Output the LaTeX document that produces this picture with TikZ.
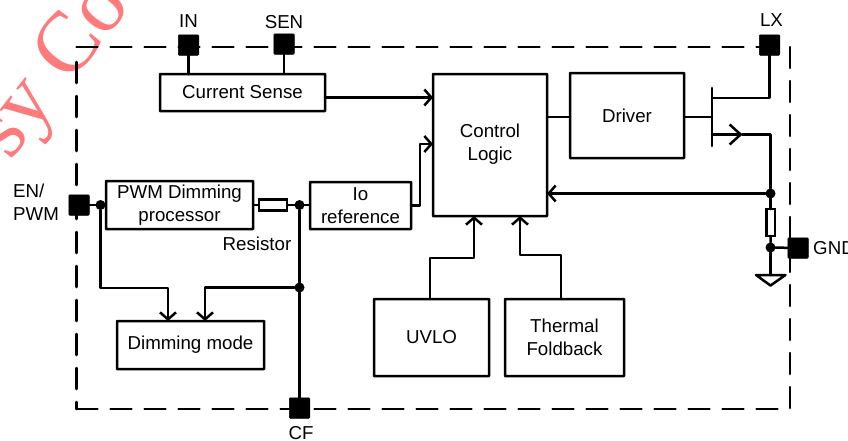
\documentclass[tikz,border=0pt]{standalone}
\usepackage{fontspec}
\setmainfont{Liberation Sans}
\newfontfamily\wmfont{Liberation Serif}
\usetikzlibrary{arrows.meta,calc}
\tikzset{
  wire/.style={line width=2.5pt,line cap=round,line join=round},
  flow/.style={wire,-{Straight Barb[length=7pt,width=16pt,line width=2.5pt]}},
  blk/.style={draw,line width=2.5pt,inner sep=0pt,outer sep=0pt,align=center,font=\fontsize{18.7}{22.5}\selectfont,rounded corners=0.5pt},
  pin/.style={fill=black,draw=black,line width=0.5pt,minimum size=20.5pt,inner sep=0pt,outer sep=0pt,rounded corners=1pt},
  lbl/.style={inner sep=0pt,align=left,font=\fontsize{18.7}{22.5}\selectfont},
  jn/.style={circle,fill=black,minimum size=10pt,inner sep=0pt,outer sep=0pt},
  res/.style={draw,fill=white,line width=2.5pt,inner sep=0pt,outer sep=0pt},
}
\begin{document}
\begin{tikzpicture}[x=1pt,y=-1pt]
\useasboundingbox (0,0) rectangle (848,440);
% watermark
\begin{scope}
\clip (0,0) rectangle (848,440);
\node[rotate=52,text=red!52!white,font=\wmfont\fontsize{86}{86}\selectfont,inner sep=0pt,anchor=base west] (wm) at (10,162) {sy Co};
\end{scope}
% frame
\coordinate (tl) at (76.5,47);
\coordinate (br) at (790,409);
\draw[wire,dash pattern=on 21pt off 13pt] (tl) -- (tl -| br);
\draw[wire,dash pattern=on 21pt off 13pt] (tl |- br) -- (br);
\draw[wire,dash pattern=on 21pt off 13pt] (tl) ++(0,15) -- (tl |- br);
\draw[wire,dash pattern=on 21pt off 13pt] (tl -| br) -- (br);
% blocks
\node[blk,minimum width=165pt,minimum height=37pt] (cs) at (242.5,92.5) {Current Sense};
\node[blk,minimum width=147pt,minimum height=48pt] (pwm) at (179.5,205) {PWM Dimming\\processor};
\node[blk,minimum width=101pt,minimum height=47pt] (io) at (360.5,205.5) {Io\\reference};
\node[blk,minimum width=147pt,minimum height=48pt] (dim) at (190.5,345) {Dimming mode};
\node[blk,minimum width=114pt,minimum height=142pt] (ctl) at (490,145) {};
\node[lbl,align=center] (ctltxt) at (490,144) {Control\\Logic};
\node[blk,minimum width=114pt,minimum height=85pt] (drv) at (627,115.5) {Driver};
\node[blk,minimum width=115pt,minimum height=77pt] (uvlo) at (431.5,337.5) {UVLO};
\node[blk,minimum width=119pt,minimum height=77pt] (thm) at (564.5,337.5) {Thermal\\Foldback};
% pins
\node[pin] (pin) at (188.5,45) {};
\node[pin] (psen) at (284,44) {};
\node[pin] (plx) at (769.5,45) {};
\node[pin] (pen) at (79,205) {};
\node[pin] (pcf) at (299.5,408) {};
\node[pin] (pgnd) at (798,248) {};
% labels
\node[lbl] (lin) at (188.5,21) {IN};
\node[lbl] (lsen) at (284,22) {SEN};
\node[lbl] (llx) at (771.5,20) {LX};
\node[lbl,anchor=west] (len) at (13,202) {EN/\\PWM};
\node[lbl] (lcf) at (301,433) {CF};
\node[lbl,anchor=west] (lgnd) at (813,248) {GND};
\node[lbl] (lres) at (257,244) {Resistor};
% junctions
\node[jn] (j1) at (100.5,205) {};
\node[jn] (j2) at (299.5,205) {};
\node[jn] (j3) at (299.5,287.5) {};
\node[jn] (j4) at (770.5,193.5) {};
\node[jn] (j5) at (770.5,247.5) {};
% connectors
\draw[wire] (pin) -- (pin |- cs.north);
\draw[wire] (psen) -- (psen |- cs.north);
\draw[flow] (cs.east |- 0,97.5) -- (ctl.west |- 0,97.5);
\draw[flow] (io.east) -- (420,205.5) -- (420,144) -- (ctl.west |- 0,144);
\draw[wire] (pen) -- (j1) -- (pwm.west |- j1);
\draw[flow] (j1) -- (100.5,288) -- (168,288) -- (168,321);
\draw[flow] (j3) -- (205,287.5) -- (205,321);
\node[res,minimum width=28pt,minimum height=11pt] (r1) at (273,205) {};
\draw[wire] (pwm.east |- r1) -- (r1.west);
\draw[wire] (r1.east) -- (j2) -- (io.west |- j2);
\draw[wire] (j2) -- (j3) -- (pcf);
\draw[flow] (uvlo.north -| 430,0) -- (430,258) -- (474,258) -- (474,216);
\draw[flow] (thm.north -| 561,0) -- (561,255) -- (520,255) -- (520,216);
\draw[wire] (ctl.east |- 0,117) -- (drv.west |- 0,117);
% transistor
\coordinate (gbar) at (712,117);
\draw[wire] (drv.east |- gbar) -- (gbar);
\draw[wire] (712,88) -- (712,146);
\draw[wire] (712,98) -- (plx |- 0,98) -- (plx);
\draw[flow,-{Straight Barb[length=11pt,width=20pt,line width=2.5pt]}] (712,134.5) -- (742.5,134.5);
\draw[wire] (742,134.5) -- (770.5,134.5) -- (j4);
\draw[flow] (j4) -- (ctl.east |- j4);
\node[res,minimum width=8.5pt,minimum height=27pt] (r2) at (770.5,222.5) {};
\draw[wire] (j4) -- (r2.north);
\draw[wire] (r2.south) -- (j5) -- (pgnd);
\coordinate (gt) at (770.5,275);
\draw[wire] (j5) -- (gt);
\draw[wire] (756,275) -- (785.5,275) -- (770.5,285.5) -- cycle;
\end{tikzpicture}
\end{document}
